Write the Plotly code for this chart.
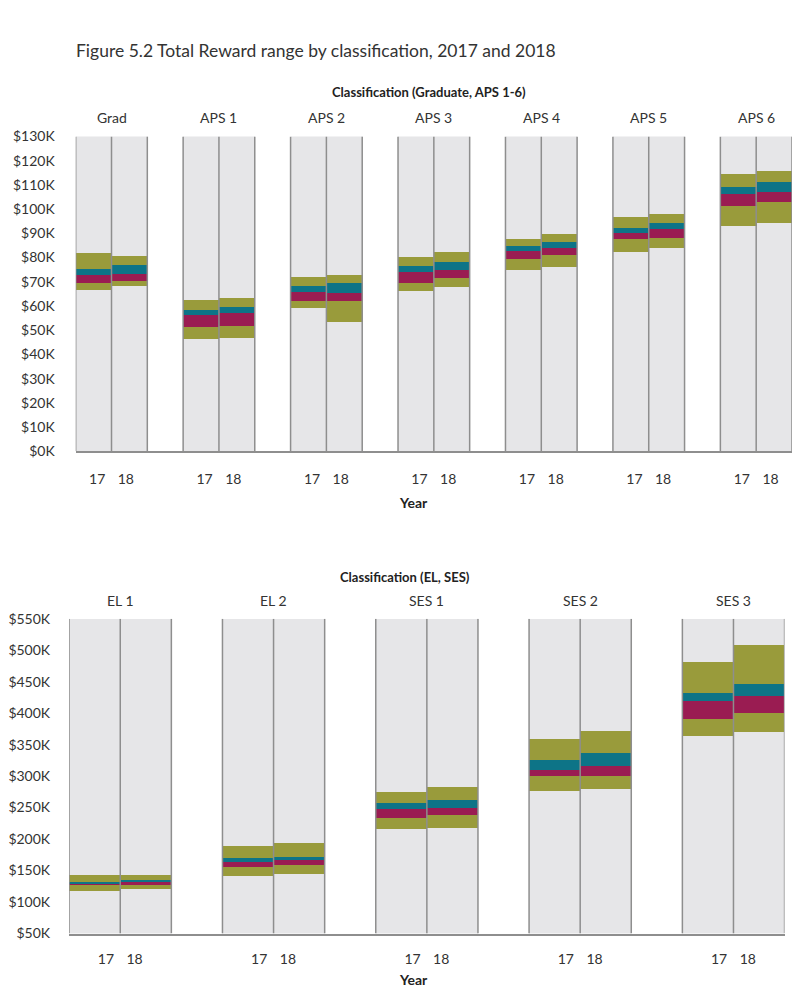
"""
Total Reward range by classification, 2017 and 2018.
"""

import plotly.graph_objects as go

# ------------------------------------------------------- Data ---------------------------------------------------------

YEARS = ["17", "18"]

TOP_GROUPS = ["Grad", "APS 1", "APS 2", "APS 3", "APS 4", "APS 5", "APS 6"]
# $K, one value per bar: 2017 then 2018 for each classification
TOP_P5 = [66.5, 67.9, 46.2, 46.7, 58.9, 53.2, 65.9, 67.5, 74.5, 75.9, 82.2, 83.7, 92.9, 94.2]
TOP_P25 = [69.5, 70.2, 51.0, 51.7, 61.8, 61.8, 69.5, 71.5, 79.2, 80.9, 87.3, 88.0, 101.2, 102.9]
TOP_P50 = [72.5, 73.2, 56.0, 56.8, 65.6, 65.3, 73.7, 74.6, 82.5, 83.7, 90.0, 91.7, 106.2, 106.9]
TOP_P75 = [75.2, 76.8, 58.2, 59.5, 68.0, 69.5, 76.5, 78.0, 84.5, 86.4, 92.2, 94.2, 109.1, 111.2]
TOP_P95 = [81.7, 80.3, 62.5, 63.3, 71.8, 72.5, 80.2, 82.3, 87.3, 89.5, 96.4, 97.9, 114.2, 115.6]

BOTTOM_GROUPS = ["EL 1", "EL 2", "SES 1", "SES 2", "SES 3"]
BOTTOM_P5 = [118.7, 120.9, 142.6, 144.7, 216.0, 218.6, 277.4, 280.0, 363.7, 371.0]
BOTTOM_P25 = [128.0, 128.0, 156.7, 159.8, 233.7, 238.3, 300.8, 300.3, 390.8, 401.2]
BOTTOM_P50 = [129.9, 133.3, 164.5, 167.6, 247.7, 250.3, 310.1, 316.4, 419.4, 427.2]
BOTTOM_P75 = [131.8, 135.8, 169.7, 171.7, 258.1, 262.8, 326.8, 336.7, 432.0, 447.0]
BOTTOM_P95 = [143.2, 143.2, 189.4, 194.6, 275.3, 283.1, 359.1, 372.1, 482.4, 509.4]

TOP_RANGE = [0, 130]
BOTTOM_RANGE = [50, 550]

# ------------------------------------------------------ Styles --------------------------------------------------------

FONT = "Lato"
TEXT = "#333333"
BG_GRAY = "#e6e6e8"
EDGE = "#8e8e8e"
OLIVE = "#999b3b"
MAROON = "#9a1c52"
TEAL = "#0d7487"

# the page body adds an 8px margin, so the figure is 16px smaller than the window
W, H, PAD = 784, 980, 8
YEAR_LABEL_GAP = 14.5  # px from the pair centre to each year label


def px_x(x):
    return min(1.0, max(0.0, (x - PAD) / W))


def px_y(y):
    return 1 - (y - PAD) / H


def positions(groups):
    return [3 * i + j for i in range(len(groups)) for j in range(len(YEARS))]


def add_panel(fig, groups, p5, p25, p50, p75, p95, yrange, xa, ya):
    xs = positions(groups)
    lo, hi = yrange
    common = dict(x=xs, width=1, xaxis=xa, yaxis=ya, hoverinfo="skip", showlegend=False)
    fig.add_trace(go.Bar(y=[hi - lo] * len(xs), base=[lo] * len(xs),
                         marker=dict(color=BG_GRAY, line=dict(width=0)), **common))
    bands = [(p5, p25, OLIVE), (p25, p50, MAROON), (p50, p75, TEAL), (p75, p95, OLIVE)]
    for b0, b1, col in bands:
        fig.add_trace(go.Bar(y=[t - s for s, t in zip(b0, b1)], base=b0,
                             marker=dict(color=col, line=dict(width=0)), **common))
    # vertical edges of each pair of bars
    ex, ey = [], []
    for i in range(len(groups)):
        for e in (3 * i - 0.5, 3 * i + 0.5, 3 * i + 1.5):
            ex += [e, e, None]
            ey += [lo, hi, None]
    fig.add_trace(go.Scatter(x=ex, y=ey, mode="lines", line=dict(color=EDGE, width=1.5),
                             xaxis=xa, yaxis=ya, hoverinfo="skip", showlegend=False))


fig = go.Figure()
add_panel(fig, TOP_GROUPS, TOP_P5, TOP_P25, TOP_P50, TOP_P75, TOP_P95, TOP_RANGE, "x", "y")
add_panel(fig, BOTTOM_GROUPS, BOTTOM_P5, BOTTOM_P25, BOTTOM_P50, BOTTOM_P75, BOTTOM_P95,
          BOTTOM_RANGE, "x2", "y2")

tick_font = dict(family=FONT, size=14, color=TEXT)


def xaxis(groups, domain, anchor, standoff):
    span = 3 * len(groups) - 1
    unit_px = (domain[1] - domain[0]) * W / span
    off = YEAR_LABEL_GAP / unit_px
    ticks = []
    for i in range(len(groups)):
        ticks += [3 * i + 0.5 - off, 3 * i + 0.5 + off]
    return dict(domain=domain, anchor=anchor, range=[-0.5, span - 0.5],
                tickvals=ticks, ticktext=YEARS * len(groups), tickfont=tick_font,
                ticks="", ticklabelstandoff=standoff, showgrid=False, zeroline=False,
                showline=True, linecolor=EDGE, linewidth=2, fixedrange=True)


def yaxis(yrange, dtick, domain, anchor, standoff):
    return dict(domain=domain, anchor=anchor, range=yrange, dtick=dtick,
                tickprefix="$", ticksuffix="K", tickfont=tick_font, ticks="",
                ticklabelstandoff=standoff, showgrid=False, zeroline=False, showline=False,
                fixedrange=True)


def label(text, x, y, size, color=TEXT, xanchor="center"):
    return dict(text=text, x=px_x(x), y=px_y(y), xref="paper", yref="paper",
                xanchor=xanchor, yanchor="middle", showarrow=False,
                font=dict(family=FONT, size=size, color=color))


annotations = [
    label("Figure 5.2 Total Reward range by classification, 2017 and 2018", 67, 42, 17.5,
          xanchor="left"),
    label("<b>Classification (Graduate, APS 1-6)</b>", 425, 84, 13, "#222"),
    label("<b>Year</b>", 410, 502, 14, "#222"),
    label("<b>Classification (EL, SES)</b>", 401, 578, 13, "#222"),
    label("<b>Year</b>", 410, 987, 14, "#222"),
]
for xa, ya, groups in (("x", "y", TOP_GROUPS), ("x2", "y2", BOTTOM_GROUPS)):
    for i, g in enumerate(groups):
        annotations.append(dict(text=g, x=3 * i + 0.5, y=1, xref=xa, yref=ya + " domain",
                                yanchor="bottom", yshift=8, showarrow=False,
                                font=dict(family=FONT, size=14, color=TEXT)))

fig.update_layout(
    width=W, height=H, barmode="overlay", bargap=0,
    margin=dict(l=0, r=0, t=0, b=0),
    paper_bgcolor="white", plot_bgcolor="white",
    xaxis=xaxis(TOP_GROUPS, [px_x(68.3), px_x(794)], "y", 14),
    yaxis=yaxis(TOP_RANGE, 10, [px_y(450), px_y(129.5)], "x", 20),
    xaxis2=xaxis(BOTTOM_GROUPS, [px_x(61.7), px_x(784.5)], "y2", 12),
    yaxis2=yaxis(BOTTOM_RANGE, 50, [px_y(940.7), px_y(620.3)], "x2", 18),
    annotations=annotations,
)

fig.write_html("out.html")
